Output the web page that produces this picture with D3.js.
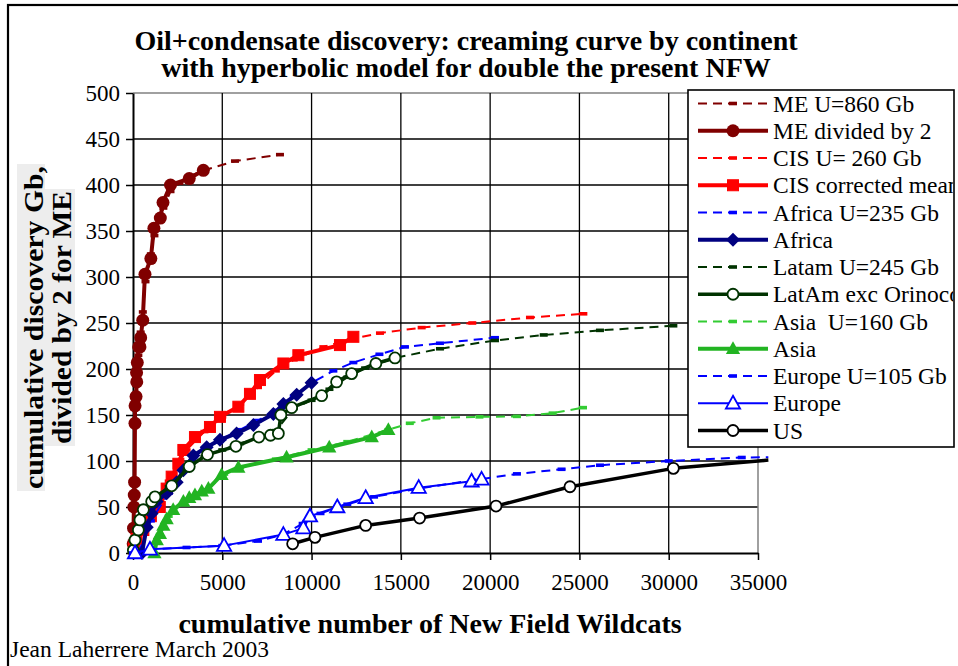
<!DOCTYPE html>
<html><head><meta charset="utf-8">
<script src="https://cdn.jsdelivr.net/npm/d3@7"></script>
<style>body{margin:0;background:#fff}svg{display:block}svg text{font-family:"Liberation Serif","Times New Roman",Times,serif}</style>
</head><body>
<script>
// ---------- data ----------
const xTicks = [0, 5000, 10000, 15000, 20000, 25000, 30000, 35000];
const yTicks = [0, 50, 100, 150, 200, 250, 300, 350, 400, 450, 500];

const meModelX = [0, 100, 200, 300, 430, 550, 700, 1000, 1200, 1500, 1700, 2100, 2600, 3200, 4000, 5710, 8230];
const meModelY = [0, 140, 185, 215, 240, 262, 295, 325, 345, 362, 375, 393, 402, 410, 416, 426, 433];
const meX = [10, 30, 50, 70, 90, 110, 115, 170, 210, 200, 240, 320, 390, 430, 545, 670, 1000, 1170, 1530, 1680, 2100, 3150, 3940];
const meY = [10, 27, 50, 63, 77, 141, 160, 170, 186, 196, 207, 224, 224, 234, 253, 303, 320, 353, 364, 381, 400, 407, 416];

const cisModelX = [0, 500, 1000, 1500, 2000, 3000, 4000, 5000, 6000, 7000, 8000, 9000, 10660, 12340, 13830, 16165, 19000, 22230, 25220];
const cisModelY = [0, 32, 50, 63, 78, 112, 132, 148, 162, 180, 198, 210, 224, 233, 239, 245, 250, 256, 260];
const cisX = [50, 200, 580, 1000, 1500, 1885, 2165, 2540, 2820, 3470, 4310, 4870, 5900, 6550, 7110, 8420, 9260, 11590, 12340];
const cisY = [5, 15, 25, 40, 50, 70, 83, 97, 112, 126, 137, 148, 159, 173, 188, 206, 215, 226, 235];

const afModelX = [300, 1000, 2000, 3000, 4000, 5000, 6000, 7000, 8000, 9000, 10000, 11220, 12340, 13800, 15230, 17190, 20270];
const afModelY = [0, 35, 65, 92, 112, 124, 134, 144, 155, 170, 185, 198, 207, 216, 224, 228, 234];
const afX = [500, 770, 1045, 1325, 1885, 2445, 2820, 3380, 4125, 4870, 5800, 6740, 7860, 8420, 9165, 10000];
const afY = [0, 28, 43, 56, 65, 77, 90, 106, 115, 123, 130, 139, 151, 162, 172, 185];

const laModelX = [0, 500, 1000, 2000, 3000, 4000, 5000, 6000, 7000, 8000, 9000, 10000, 11000, 12000, 13000, 14670, 17190, 20270, 23000, 26150, 30260];
const laModelY = [0, 42, 55, 72, 90, 105, 112, 119, 125, 133, 157, 166, 178, 191, 201, 212, 222, 231, 237, 242, 247];
const laX = [20, 110, 300, 390, 580, 1045, 1230, 2165, 3150, 4170, 5760, 7050, 7700, 8140, 8280, 8885, 10565, 11400, 12245, 13600, 14670];
const laY = [3, 14, 25, 36, 47, 56, 61, 73, 94, 107, 116, 126, 128, 130, 150, 158, 171, 186, 195, 206, 212];

const asModelX = [1000, 1500, 2000, 3000, 4000, 5000, 6000, 8000, 10000, 12000, 14300, 15500, 17000, 19400, 21500, 23500, 25200];
const asModelY = [0, 20, 40, 58, 68, 82, 93, 102, 112, 121, 134, 141, 147, 148, 148.5, 152, 158];
const asX = [1200, 1330, 1510, 1700, 1885, 2250, 2820, 3150, 3470, 3850, 4220, 4960, 5900, 8600, 10990, 13370, 14300];
const asY = [0, 14, 21, 30, 37, 47, 56, 60, 63, 67, 70, 85, 93, 104, 115, 126, 134];

const euModelX = [0, 1000, 3000, 5000, 7000, 8400, 9500, 10500, 12000, 13500, 16000, 19000, 21500, 24000, 26150, 30000, 34090, 35580];
const euModelY = [0, 4, 6, 8, 13, 20, 32, 43, 53, 61, 70, 79, 86, 91, 95.4, 100, 103.8, 104.2];
const euX = [112, 950, 5100, 8420, 9540, 9910, 11440, 13030, 16000, 18960, 19520];
const euY = [0, 4, 8, 20, 27, 40, 50, 60, 71, 78, 80];

const usX = [8940, 10190, 13030, 16050, 20330, 24470, 30260, 35580];
const usY = [10, 17, 30, 38, 51, 72, 92, 101];

const legendLabels = ["ME U=860 Gb", "ME divided by 2", "CIS U= 260 Gb", "CIS corrected mean",
  "Africa U=235 Gb", "Africa", "Latam U=245 Gb", "LatAm exc Orinoco", "Asia  U=160 Gb", "Asia",
  "Europe U=105 Gb", "Europe", "US"];
const titleLines = ["Oil+condensate discovery: creaming curve by continent", "with hyperbolic model for double the present NFW"];
const yTitleLines = ["cumulative discovery Gb,", "divided by 2 for ME"];
const xTitle = "cumulative number of New Field Wildcats";
const credit = "Jean Laherrere March 2003";

// ---------- styles ----------
const FONT = '"Liberation Serif","Times New Roman",Times,serif';
const styles = [
  {c:'#800000', w:2, dash:true, m:'dash'},
  {c:'#800000', w:4, m:'circle', r:6.5},
  {c:'#ff0000', w:2, dash:true, m:'dash'},
  {c:'#ff0000', w:4, m:'square', r:5.5},
  {c:'#0000ff', w:2, dash:true, m:'dash'},
  {c:'#000080', w:4, m:'diamond', r:7},
  {c:'#003300', w:2, dash:true, m:'dash'},
  {c:'#003300', w:3.5, m:'ocircle', r:5.5},
  {c:'#33cc33', w:2, dash:true, m:'dash'},
  {c:'#22b422', w:4, m:'triangle', r:7.5},
  {c:'#0000ff', w:2, dash:true, m:'dash'},
  {c:'#0000ff', w:2, m:'otriangle', r:7.5},
  {c:'#000000', w:3.5, m:'ocircle', r:5.5}
];
const seriesData = [
  [meModelX, meModelY], [meX, meY], [cisModelX, cisModelY], [cisX, cisY],
  [afModelX, afModelY], [afX, afY], [laModelX, laModelY], [laX, laY],
  [asModelX, asModelY], [asX, asY], [euModelX, euModelY], [euX, euY], [usX, usY]
];

const W = 958, H = 666;
const svg = d3.select('body').append('svg').attr('width', W).attr('height', H);

const x = d3.scaleLinear().domain([0, 35000]).range([133, 758]);
const y = d3.scaleLinear().domain([0, 500]).range([553, 93]);

function txt(g) { return g.append('text').attr('font-family', FONT).attr('fill', '#000'); }

// outer frame
svg.append('rect').attr('x', 8).attr('y', 5).attr('width', 980).attr('height', 700)
  .attr('fill', 'none').attr('stroke', '#000').attr('stroke-width', 2.2);

// title
titleLines.forEach((t, i) => {
  txt(svg).attr('x', 466).attr('y', 50 + i * 26.5).attr('text-anchor', 'middle')
    .attr('font-weight', 'bold').attr('font-size', 28).text(t);
});

// grid
const grid = svg.append('g');
yTicks.filter(v => v > 0).forEach(v => {
  grid.append('line').attr('x1', x(0)).attr('x2', x(35000)).attr('y1', y(v)).attr('y2', y(v))
    .attr('stroke', v === 500 ? '#808080' : '#000').attr('stroke-width', v === 500 ? 1.5 : 1.3);
});
xTicks.filter(v => v > 0).forEach(v => {
  grid.append('line').attr('y1', y(0)).attr('y2', y(500)).attr('x1', x(v)).attr('x2', x(v))
    .attr('stroke', v === 35000 ? '#808080' : '#000').attr('stroke-width', v === 35000 ? 1.5 : 1.3);
});

// axes
const fmt = d3.format('d');
const yAxis = svg.append('g').attr('transform', `translate(${x(0)},0)`)
  .call(d3.axisLeft(y).tickValues(yTicks).tickFormat(fmt).tickSize(7).tickSizeOuter(0).tickPadding(6));
const xAxis = svg.append('g').attr('transform', `translate(0,${y(0)})`)
  .call(d3.axisBottom(x).tickValues(xTicks).tickFormat(fmt).tickSize(7).tickSizeOuter(0).tickPadding(14));
[yAxis, xAxis].forEach(g => {
  g.attr('font-family', FONT).attr('font-size', 23);
  g.selectAll('path.domain').attr('stroke', '#000').attr('stroke-width', 2);
  g.selectAll('line').attr('stroke', '#000').attr('stroke-width', 1.5);
  g.selectAll('text').attr('font-size', 23).attr('fill', '#000').attr('font-family', FONT);
});

// y title with light background
const yT = [{t: yTitleLines[0], bx: 17, bw: 28, cy: 327.5, base: 43, len: 323},
            {t: yTitleLines[1], bx: 45, bw: 30, cy: 317.5, base: 71, len: 253}];
yT.forEach(o => {
  svg.append('rect').attr('x', o.bx).attr('y', o.cy - o.len / 2 - 2).attr('width', o.bw).attr('height', o.len + 4)
    .attr('fill', '#ededed');
});
yT.forEach(o => {
  txt(svg).attr('transform', `translate(${o.base},${o.cy}) rotate(-90)`)
    .attr('text-anchor', 'middle').attr('font-weight', 'bold').attr('font-size', 28)
    .attr('textLength', o.len).attr('lengthAdjust', 'spacingAndGlyphs').text(o.t);
});

// x title & credit
txt(svg).attr('x', 430).attr('y', 633).attr('text-anchor', 'middle')
  .attr('font-weight', 'bold').attr('font-size', 28).text(xTitle);
txt(svg).attr('x', 10).attr('y', 657).attr('font-size', 23.5).text(credit);

// markers
function marker(g, type, cx, cy, st) {
  const r = st.r;
  if (type === 'dash') {
    g.append('rect').attr('x', cx - 4).attr('y', cy - 1.8).attr('width', 8).attr('height', 3.6).attr('fill', st.c);
  } else if (type === 'circle') {
    g.append('circle').attr('cx', cx).attr('cy', cy).attr('r', r).attr('fill', st.c);
  } else if (type === 'ocircle') {
    g.append('circle').attr('cx', cx).attr('cy', cy).attr('r', r).attr('fill', '#fff')
      .attr('stroke', st.c).attr('stroke-width', 1.8);
  } else if (type === 'square') {
    g.append('rect').attr('x', cx - r).attr('y', cy - r).attr('width', 2 * r).attr('height', 2 * r)
      .attr('fill', st.c).attr('stroke', st.c).attr('stroke-width', 1);
  } else if (type === 'diamond') {
    g.append('path').attr('d', `M${cx},${cy - r}L${cx + r},${cy}L${cx},${cy + r}L${cx - r},${cy}Z`).attr('fill', st.c);
  } else if (type === 'triangle' || type === 'otriangle') {
    const p = g.append('path').attr('d', `M${cx},${cy - r}L${cx + r * 0.95},${cy + r * 0.7}L${cx - r * 0.95},${cy + r * 0.7}Z`);
    if (type === 'triangle') p.attr('fill', st.c);
    else p.attr('fill', '#fff').attr('stroke', st.c).attr('stroke-width', 1.8);
  }
}

// series
const line = d3.line().x(d => x(d[0])).y(d => y(d[1]));
const plot = svg.append('g');
seriesData.forEach((sd, i) => {
  const st = styles[i];
  const pts = sd[0].map((v, k) => [v, sd[1][k]]);
  const g = plot.append('g');
  g.append('path').attr('d', line(pts)).attr('fill', 'none').attr('stroke', st.c)
    .attr('stroke-width', st.w).attr('stroke-linejoin', 'round')
    .attr('stroke-dasharray', st.dash ? '9,6' : null);
  pts.filter(p => p[0] <= 35000).forEach(p => marker(g, st.m, x(p[0]), y(p[1]), st));
});

// legend
const lg = svg.append('g');
lg.append('rect').attr('x', 688).attr('y', 90).attr('width', 266).attr('height', 357)
  .attr('fill', '#fff').attr('stroke', '#000').attr('stroke-width', 1.6);
svg.append('clipPath').attr('id', 'lgclip').append('rect').attr('x', 688).attr('y', 90).attr('width', 265).attr('height', 357);
legendLabels.forEach((t, i) => {
  const st = styles[i];
  const cy = 103.5 + i * 27.25;
  lg.append('line').attr('x1', 698).attr('x2', 768).attr('y1', cy).attr('y2', cy)
    .attr('stroke', st.c).attr('stroke-width', st.w).attr('stroke-dasharray', st.dash ? '9,6' : null);
  marker(lg, st.m, 733, cy, st);
  txt(lg).attr('x', 773).attr('y', cy + 8).attr('font-size', 23.5)
    .attr('clip-path', 'url(#lgclip)').attr('xml:space', 'preserve').style('white-space', 'pre').text(t);
});
</script>
</body></html>
